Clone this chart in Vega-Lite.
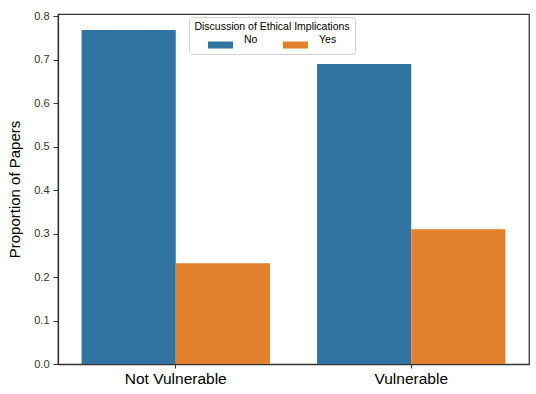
{
  "$schema": "https://vega.github.io/schema/vega-lite/v6.json",
  "width": 471,
  "height": 350,
  "autosize": "none",
  "padding": {"left": 58, "top": 14, "right": 7, "bottom": 30},
  "background": "white",
  "config": {
    "font": "Liberation Sans",
    "view": {"stroke": "#333333", "strokeWidth": 1.25}
  },
  "data": {
    "values": [
      {"group": "Not Vulnerable", "ethics": "No", "prop": 0.768},
      {"group": "Not Vulnerable", "ethics": "Yes", "prop": 0.232},
      {"group": "Vulnerable", "ethics": "No", "prop": 0.69},
      {"group": "Vulnerable", "ethics": "Yes", "prop": 0.31}
    ]
  },
  "mark": {"type": "bar"},
  "encoding": {
    "x": {
      "field": "group",
      "type": "nominal",
      "scale": {"paddingInner": 0.2, "paddingOuter": 0.1},
      "axis": {
        "title": null,
        "labelAngle": 0,
        "labelFontSize": 15.5,
        "labelColor": "#000000",
        "labelPadding": 3,
        "tickSize": 4,
        "tickColor": "#333333",
        "domainColor": "#333333",
        "domainWidth": 1.25
      }
    },
    "xOffset": {"field": "ethics", "type": "nominal", "scale": {"paddingInner": 0, "paddingOuter": 0}},
    "y": {
      "field": "prop",
      "type": "quantitative",
      "scale": {"domain": [0, 0.805], "nice": false},
      "axis": {
        "title": "Proportion of Papers",
        "titleFontSize": 15,
        "titleFontWeight": "normal",
        "titleColor": "#000000",
        "titlePadding": 11,
        "values": [0, 0.1, 0.2, 0.3, 0.4, 0.5, 0.6, 0.7, 0.8],
        "format": ".1f",
        "labelFontSize": 11,
        "labelColor": "#333333",
        "labelPadding": 4,
        "tickSize": 5,
        "tickColor": "#333333",
        "domainColor": "#333333",
        "domainWidth": 1.25,
        "grid": false
      }
    },
    "color": {
      "field": "ethics",
      "type": "nominal",
      "scale": {"domain": ["No", "Yes"], "range": ["#3274a1", "#e1812c"]},
      "legend": {
        "title": "Discussion of Ethical Implications",
        "orient": "none",
        "legendX": 131,
        "legendY": 3,
        "direction": "horizontal",
        "columns": 2,
        "titleFontSize": 10.5,
        "titleFontWeight": "normal",
        "titleColor": "#000000",
        "titleAnchor": "middle",
        "titlePadding": 0,
        "labelFontSize": 10.5,
        "labelColor": "#000000",
        "labelBaseline": "bottom",
        "labelOffset": 11,
        "symbolOffset": 0,
        "symbolType": "M-1,-0.28H1V0.28H-1Z",
        "symbolSize": 625,
        "symbolStrokeWidth": 0,
        "columnPadding": 25,
        "padding": 5,
        "strokeColor": "#d0d0d0",
        "fillColor": "#ffffff",
        "cornerRadius": 3
      }
    }
  }
}
